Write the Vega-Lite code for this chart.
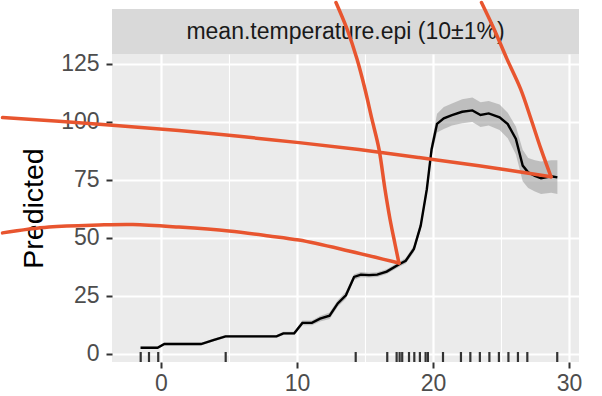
{
  "$schema": "https://vega.github.io/schema/vega-lite/v6.json",
  "padding": 0,
  "autosize": {"type": "pad"},
  "background": "white",
  "spacing": 0,
  "bounds": "flush",
  "config": {"view": {"stroke": null}, "font": "Liberation Sans"},
  "datasets": {
    "fit": [
      {"x": -1.5, "y": 2.7, "lo": 2.2, "hi": 3.2},
      {"x": -0.25, "y": 2.7, "lo": 2.2, "hi": 3.2},
      {"x": 0.25, "y": 4.3, "lo": 3.8, "hi": 4.8},
      {"x": 2.95, "y": 4.3, "lo": 3.8, "hi": 4.8},
      {"x": 3.85, "y": 6.0, "lo": 5.4, "hi": 6.6},
      {"x": 4.75, "y": 7.6, "lo": 7.0, "hi": 8.2},
      {"x": 8.5, "y": 7.6, "lo": 7.0, "hi": 8.2},
      {"x": 9.0, "y": 8.9, "lo": 8.2, "hi": 9.6},
      {"x": 9.8, "y": 8.9, "lo": 8.2, "hi": 9.6},
      {"x": 10.4, "y": 13.4, "lo": 12.4, "hi": 14.4},
      {"x": 11.1, "y": 13.4, "lo": 12.4, "hi": 14.4},
      {"x": 11.7, "y": 15.2, "lo": 14.0, "hi": 16.4},
      {"x": 12.4, "y": 16.5, "lo": 15.1, "hi": 17.9},
      {"x": 13.0, "y": 21.8, "lo": 20.4, "hi": 23.2},
      {"x": 13.6, "y": 25.3, "lo": 23.8, "hi": 26.8},
      {"x": 14.2, "y": 33.2, "lo": 32.0, "hi": 34.4},
      {"x": 14.7, "y": 34.2, "lo": 33.1, "hi": 35.3},
      {"x": 15.3, "y": 34.0, "lo": 33.0, "hi": 35.0},
      {"x": 15.9, "y": 34.2, "lo": 33.2, "hi": 35.2},
      {"x": 16.6, "y": 35.5, "lo": 34.5, "hi": 36.5},
      {"x": 17.55, "y": 38.8, "lo": 37.7, "hi": 39.9},
      {"x": 18.0, "y": 40.2, "lo": 39.0, "hi": 41.4},
      {"x": 18.6, "y": 45.3, "lo": 43.8, "hi": 46.8},
      {"x": 19.1, "y": 55.3, "lo": 53.5, "hi": 57.1},
      {"x": 19.55, "y": 71.0, "lo": 68.8, "hi": 73.2},
      {"x": 19.9, "y": 88.3, "lo": 85.5, "hi": 91.1},
      {"x": 20.3, "y": 99.2, "lo": 95.5, "hi": 103.5},
      {"x": 20.8, "y": 101.6, "lo": 97.0, "hi": 106.5},
      {"x": 21.4, "y": 103.0, "lo": 98.5, "hi": 108.0},
      {"x": 22.15, "y": 104.4, "lo": 99.5, "hi": 109.8},
      {"x": 22.9, "y": 105.0, "lo": 100.0, "hi": 110.5},
      {"x": 23.5, "y": 103.0, "lo": 97.8, "hi": 108.5},
      {"x": 24.1, "y": 103.7, "lo": 98.5, "hi": 109.0},
      {"x": 24.9, "y": 102.0, "lo": 96.5, "hi": 107.5},
      {"x": 25.5, "y": 99.1, "lo": 93.0, "hi": 104.0},
      {"x": 26.1, "y": 92.7, "lo": 86.0, "hi": 98.0},
      {"x": 26.6, "y": 81.2, "lo": 74.5, "hi": 88.0},
      {"x": 27.0, "y": 78.3, "lo": 71.5, "hi": 84.5},
      {"x": 27.5, "y": 76.8, "lo": 70.0, "hi": 83.5},
      {"x": 27.95, "y": 75.7, "lo": 69.0, "hi": 83.0},
      {"x": 28.7, "y": 76.6, "lo": 69.5, "hi": 83.5},
      {"x": 29.15, "y": 76.1, "lo": 69.0, "hi": 83.5}
    ],
    "rug": [
      {"x": -1.49}, {"x": -0.88}, {"x": -0.2}, {"x": 4.76}, {"x": 14.32}, {"x": 16.64},
      {"x": 17.33}, {"x": 17.55}, {"x": 17.74}, {"x": 18.24}, {"x": 18.63}, {"x": 19.04},
      {"x": 19.46}, {"x": 19.63}, {"x": 20.74}, {"x": 22.06}, {"x": 22.75}, {"x": 23.45},
      {"x": 24.15}, {"x": 24.85}, {"x": 25.55}, {"x": 26.25}, {"x": 26.94}, {"x": 29.14}
    ],
    "arrows": [
      {"curve": "A", "x": 12.87, "y": 151.5},
      {"curve": "A", "x": 13.68, "y": 140.1},
      {"curve": "A", "x": 14.41, "y": 127.2},
      {"curve": "A", "x": 15.0, "y": 114.2},
      {"curve": "A", "x": 15.51, "y": 101.3},
      {"curve": "A", "x": 16.03, "y": 88.4},
      {"curve": "A", "x": 16.47, "y": 71.1},
      {"curve": "A", "x": 16.84, "y": 58.2},
      {"curve": "A", "x": 17.21, "y": 47.4},
      {"curve": "A", "x": 17.5, "y": 39.2},
      {"curve": "B", "x": -11.65, "y": 52.2},
      {"curve": "B", "x": -8.24, "y": 54.7},
      {"curve": "B", "x": -4.56, "y": 55.6},
      {"curve": "B", "x": -2.06, "y": 55.8},
      {"curve": "B", "x": 1.32, "y": 54.7},
      {"curve": "B", "x": 5.0, "y": 53.0},
      {"curve": "B", "x": 7.94, "y": 50.9},
      {"curve": "B", "x": 10.15, "y": 49.1},
      {"curve": "B", "x": 13.82, "y": 44.4},
      {"curve": "B", "x": 17.5, "y": 39.2},
      {"curve": "C", "x": -11.65, "y": 101.9},
      {"curve": "C", "x": -7.5, "y": 100.3},
      {"curve": "C", "x": -3.09, "y": 98.4},
      {"curve": "C", "x": 1.32, "y": 96.3},
      {"curve": "C", "x": 5.74, "y": 93.8},
      {"curve": "C", "x": 10.15, "y": 91.1},
      {"curve": "C", "x": 14.56, "y": 88.1},
      {"curve": "C", "x": 18.97, "y": 84.7},
      {"curve": "C", "x": 23.38, "y": 81.1},
      {"curve": "C", "x": 28.68, "y": 76.4},
      {"curve": "D", "x": 23.57, "y": 151.5},
      {"curve": "D", "x": 24.49, "y": 140.1},
      {"curve": "D", "x": 25.44, "y": 127.2},
      {"curve": "D", "x": 26.45, "y": 114.2},
      {"curve": "D", "x": 27.21, "y": 101.3},
      {"curve": "D", "x": 27.94, "y": 88.4},
      {"curve": "D", "x": 28.68, "y": 76.4}
    ]
  },
  "vconcat": [
    {
      "width": 467,
      "height": 45,
      "view": {"fill": "#d9d9d9", "stroke": null},
      "data": {"values": [{"label": "mean.temperature.epi (10±1%)"}]},
      "mark": {"type": "text", "fontSize": 23, "color": "#1a1a1a", "font": "Liberation Sans", "baseline": "middle", "align": "center"},
      "encoding": {"text": {"field": "label"}}
    },
    {
      "width": 467,
      "height": 308,
      "view": {"fill": "#ebebeb", "stroke": null},
      "layer": [
        {
          "data": {"name": "fit"},
          "mark": {"type": "area", "fill": "#999999", "opacity": 0.55},
          "encoding": {
            "x": {
              "field": "x", "type": "quantitative",
              "scale": {"domain": [-3.6, 30.74], "nice": false, "zero": false},
              "title": null,
              "axis": {
                "values": [0, 5, 10, 15, 20, 25, 30],
                "labelExpr": "datum.value % 10 == 0 ? datum.label : ''",
                "grid": true, "gridColor": "#ffffff",
                "gridWidth": {"condition": {"test": "datum.value % 10 != 0", "value": 1.1}, "value": 2.2},
                "tickOpacity": {"condition": {"test": "datum.value % 10 != 0", "value": 0}, "value": 1},
                "tickColor": "#333333", "tickWidth": 2, "tickSize": 6,
                "domain": false,
                "labelFontSize": 23, "labelColor": "#4d4d4d", "labelPadding": 4,
                "labelFont": "Liberation Sans", "labelFlush": false, "labelOverlap": false
              }
            },
            "y": {
              "field": "lo", "type": "quantitative",
              "scale": {"domain": [-3.45, 129.3], "nice": false, "zero": false},
              "title": "Predicted",
              "axis": {
                "values": [0, 12.5, 25, 37.5, 50, 62.5, 75, 87.5, 100, 112.5, 125],
                "labelExpr": "datum.value % 25 == 0 ? datum.label : ''",
                "grid": true, "gridColor": "#ffffff",
                "gridWidth": {"condition": {"test": "datum.value % 25 != 0", "value": 1.1}, "value": 2.2},
                "tickOpacity": {"condition": {"test": "datum.value % 25 != 0", "value": 0}, "value": 1},
                "tickColor": "#333333", "tickWidth": 2, "tickSize": 6,
                "domain": false,
                "labelFontSize": 23, "labelColor": "#4d4d4d", "labelPadding": 7,
                "labelFont": "Liberation Sans", "labelOverlap": false,
                "titleFontSize": 28.5, "titleFontWeight": "normal", "titleColor": "#000000",
                "titlePadding": 12, "titleFont": "Liberation Sans"
              }
            },
            "y2": {"field": "hi"}
          }
        },
        {
          "data": {"name": "fit"},
          "mark": {"type": "line", "color": "#000000", "strokeWidth": 2.4},
          "encoding": {
            "x": {"field": "x", "type": "quantitative", "title": null},
            "y": {"field": "y", "type": "quantitative", "title": "Predicted"}
          }
        },
        {
          "data": {"name": "rug"},
          "mark": {"type": "rule", "color": "#333333", "strokeWidth": 2.2},
          "encoding": {
            "x": {"field": "x", "type": "quantitative", "title": null},
            "y": {"datum": -3.45},
            "y2": {"datum": 0.86}
          }
        },
        {
          "data": {"name": "arrows"},
          "mark": {"type": "line", "color": "#e8552f", "strokeWidth": 3.5, "clip": false, "interpolate": "catmull-rom", "strokeJoin": "round", "strokeCap": "round"},
          "encoding": {
            "x": {"field": "x", "type": "quantitative", "title": null},
            "y": {"field": "y", "type": "quantitative", "title": "Predicted"},
            "detail": {"field": "curve"}
          }
        }
      ]
    }
  ]
}
